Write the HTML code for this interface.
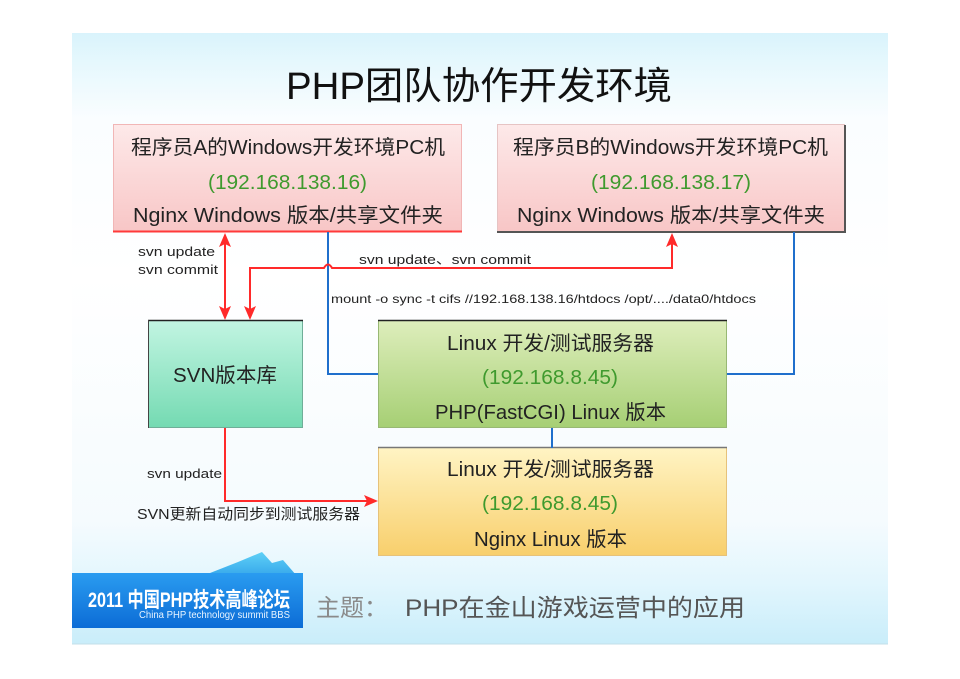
<!DOCTYPE html>
<html><head><meta charset="utf-8">
<style>
html,body{margin:0;padding:0;background:#fff;}
svg{display:block;}
text{font-family:"Liberation Sans","Noto Sans CJK SC",sans-serif;}
</style></head>
<body>
<svg width="960" height="679" viewBox="0 0 960 679" xmlns="http://www.w3.org/2000/svg">
<defs>
<linearGradient id="bg" x1="0" y1="33" x2="0" y2="644" gradientUnits="userSpaceOnUse">
<stop offset="0" stop-color="#d9f3fc"/>
<stop offset="0.05" stop-color="#e6f8fd"/>
<stop offset="0.14" stop-color="#fafdff"/>
<stop offset="0.4" stop-color="#ffffff"/>
<stop offset="0.8" stop-color="#f5fbfe"/>
<stop offset="0.9" stop-color="#e2f6fd"/>
<stop offset="1" stop-color="#c9edfa"/>
</linearGradient>
<linearGradient id="pink" x1="0" y1="0" x2="0" y2="1">
<stop offset="0" stop-color="#fde9e9"/>
<stop offset="1" stop-color="#f8c6c6"/>
</linearGradient>
<linearGradient id="mint" x1="0" y1="0" x2="0" y2="1">
<stop offset="0" stop-color="#c2f5e2"/>
<stop offset="1" stop-color="#74dab2"/>
</linearGradient>
<linearGradient id="green" x1="0" y1="0" x2="0" y2="1">
<stop offset="0" stop-color="#deeebc"/>
<stop offset="1" stop-color="#a6cf74"/>
</linearGradient>
<linearGradient id="yellow" x1="0" y1="0" x2="0" y2="1">
<stop offset="0" stop-color="#fff4c4"/>
<stop offset="1" stop-color="#f8cf6c"/>
</linearGradient>
<linearGradient id="banner" x1="0" y1="0" x2="0" y2="1">
<stop offset="0" stop-color="#2a9cf0"/>
<stop offset="1" stop-color="#0c6cd6"/>
</linearGradient>
<linearGradient id="mtn" x1="0" y1="0" x2="0" y2="1">
<stop offset="0" stop-color="#5fd0f6"/>
<stop offset="1" stop-color="#2a9ce8"/>
</linearGradient>
</defs>

<!-- slide background -->
<rect x="72" y="33" width="816" height="611" fill="url(#bg)"/>
<line x1="72" y1="644" x2="888" y2="644" stroke="#c3dfe8" stroke-width="1"/>

<!-- title -->
<text x="286" y="99" font-size="38" fill="#111" textLength="386" lengthAdjust="spacingAndGlyphs">PHP团队协作开发环境</text>

<!-- Box A -->
<rect x="113.5" y="124.5" width="348" height="107" fill="url(#pink)" stroke="#f1b6b6" stroke-width="1"/>
<line x1="113" y1="231.5" x2="462" y2="231.5" stroke="#ff3a3a" stroke-width="2"/>
<text x="131" y="154" font-size="20" fill="#222" textLength="314" lengthAdjust="spacingAndGlyphs">程序员A的Windows开发环境PC机</text>
<text x="208" y="189" font-size="20" fill="#3f9a2e" textLength="159" lengthAdjust="spacingAndGlyphs">(192.168.138.16)</text>
<text x="133" y="222" font-size="20" fill="#222" textLength="310" lengthAdjust="spacingAndGlyphs">Nginx Windows 版本/共享文件夹</text>

<!-- Box B -->
<rect x="497.5" y="124.5" width="347" height="107" fill="url(#pink)" stroke="#e6c4c4" stroke-width="1"/>
<polyline points="845,125 845,232 497,232" fill="none" stroke="#555" stroke-width="2"/>
<text x="513" y="154" font-size="20" fill="#222" textLength="315" lengthAdjust="spacingAndGlyphs">程序员B的Windows开发环境PC机</text>
<text x="591" y="189" font-size="20" fill="#3f9a2e" textLength="160" lengthAdjust="spacingAndGlyphs">(192.168.138.17)</text>
<text x="517" y="222" font-size="20" fill="#222" textLength="308" lengthAdjust="spacingAndGlyphs">Nginx Windows 版本/共享文件夹</text>

<!-- SVN box -->
<rect x="148.5" y="320.5" width="154" height="107" fill="url(#mint)" stroke="#6fae98" stroke-width="1"/>
<line x1="148" y1="320.5" x2="303" y2="320.5" stroke="#222" stroke-width="1.5"/>
<line x1="148.5" y1="320" x2="148.5" y2="428" stroke="#444" stroke-width="1"/>
<text x="173" y="382" font-size="20" fill="#222" textLength="104" lengthAdjust="spacingAndGlyphs">SVN版本库</text>

<!-- Linux box 1 -->
<rect x="378.5" y="320.5" width="348" height="107" fill="url(#green)" stroke="#98b874" stroke-width="1"/>
<line x1="378" y1="320.5" x2="727" y2="320.5" stroke="#222" stroke-width="1.5"/>
<text x="447" y="350" font-size="20" fill="#222" textLength="207" lengthAdjust="spacingAndGlyphs">Linux 开发/测试服务器</text>
<text x="482" y="384" font-size="20" fill="#3f9a2e" textLength="136" lengthAdjust="spacingAndGlyphs">(192.168.8.45)</text>
<text x="435" y="419" font-size="20" fill="#222" textLength="231" lengthAdjust="spacingAndGlyphs">PHP(FastCGI) Linux 版本</text>

<!-- Linux box 2 -->
<rect x="378.5" y="447.5" width="348" height="108" fill="url(#yellow)" stroke="#e6c27a" stroke-width="1"/>
<line x1="378" y1="447.5" x2="727" y2="447.5" stroke="#777" stroke-width="1.5"/>
<text x="447" y="476" font-size="20" fill="#222" textLength="207" lengthAdjust="spacingAndGlyphs">Linux 开发/测试服务器</text>
<text x="482" y="510" font-size="20" fill="#3f9a2e" textLength="136" lengthAdjust="spacingAndGlyphs">(192.168.8.45)</text>
<text x="474" y="546" font-size="20" fill="#222" textLength="153" lengthAdjust="spacingAndGlyphs">Nginx Linux 版本</text>

<!-- blue connectors -->
<polyline points="328,232 328,374 378,374" fill="none" stroke="#1f6fcc" stroke-width="2"/>
<polyline points="794,232 794,374 727,374" fill="none" stroke="#1f6fcc" stroke-width="2"/>
<line x1="552" y1="428" x2="552" y2="448" stroke="#1f6fcc" stroke-width="2"/>

<!-- red connectors -->
<line x1="225" y1="243" x2="225" y2="310" stroke="#ff2a2a" stroke-width="2"/>
<polygon points="225,233 219,247 225,244 231,247" fill="#ff2a2a"/>
<polygon points="225,320 219,306 225,309 231,306" fill="#ff2a2a"/>

<path d="M250,310 L250,268 L324,268 Q328,261 332,268 L672,268 L672,243" fill="none" stroke="#ff2a2a" stroke-width="2"/>
<polygon points="250,320 244,306 250,309 256,306" fill="#ff2a2a"/>
<polygon points="672,233 666,247 672,244 678,247" fill="#ff2a2a"/>

<polyline points="225,428 225,501 367,501" fill="none" stroke="#ff2a2a" stroke-width="2"/>
<polygon points="378,501 364,495 367,501 364,507" fill="#ff2a2a"/>

<!-- labels -->
<text x="138" y="256" font-size="13" fill="#222" textLength="77" lengthAdjust="spacingAndGlyphs">svn update</text>
<text x="138" y="274" font-size="13" fill="#222" textLength="80" lengthAdjust="spacingAndGlyphs">svn commit</text>
<text x="359" y="264" font-size="13" fill="#222" textLength="172" lengthAdjust="spacingAndGlyphs">svn update、svn commit</text>
<text x="331" y="303" font-size="12" fill="#222" textLength="425" lengthAdjust="spacingAndGlyphs">mount -o sync -t cifs //192.168.138.16/htdocs  /opt/..../data0/htdocs</text>
<text x="147" y="478" font-size="13" fill="#222" textLength="75" lengthAdjust="spacingAndGlyphs">svn update</text>
<text x="137" y="519" font-size="15" fill="#222" textLength="223" lengthAdjust="spacingAndGlyphs">SVN更新自动同步到测试服务器</text>

<!-- footer banner -->
<polygon points="210,573 238,562 262,552 272,563 283,560 303,583 303,573" fill="url(#mtn)"/>
<rect x="72" y="573" width="231" height="55" fill="url(#banner)"/>
<text x="88" y="607" font-size="21" font-weight="bold" fill="#fff" textLength="202" lengthAdjust="spacingAndGlyphs">2011 中国PHP技术高峰论坛</text>
<text x="139" y="618" font-size="10" fill="#e8f4ff" textLength="151" lengthAdjust="spacingAndGlyphs">China PHP technology summit BBS</text>

<text x="316" y="616" font-size="24" fill="#8a8a8a">主题：</text>
<text x="405" y="616" font-size="24" fill="#555" textLength="340" lengthAdjust="spacingAndGlyphs">PHP在金山游戏运营中的应用</text>
</svg>
</body></html>
